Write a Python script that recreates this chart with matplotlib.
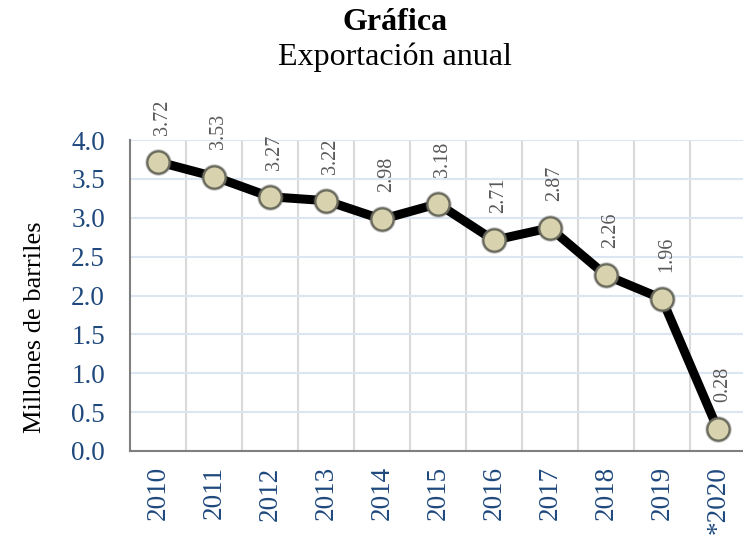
import numpy as np
import matplotlib.pyplot as plt

years = ["2010", "2011", "2012", "2013", "2014", "2015", "2016", "2017", "2018", "2019", "*2020"]
exports = [3.72, 3.53, 3.27, 3.22, 2.98, 3.18, 2.71, 2.87, 2.26, 1.96, 0.28]

plt.rcParams["font.family"] = ["Liberation Serif", "DejaVu Serif"]
blue = "#1F497D"

fig = plt.figure(figsize=(7.43, 5.35), dpi=100)
ax = fig.add_axes([130 / 743, 1 - 451 / 535, 1 - 130 / 743, 311 / 535])

x = np.arange(len(years))
ax.plot(x, exports, color="black", lw=6.5, zorder=3, solid_capstyle="round")
# soft shadow round the markers
ax.plot(x, exports, ls="none", marker="o", ms=19, mfc="#555555", mec="none",
        alpha=0.35, zorder=4)
ax.plot(x, exports, ls="none", marker="o", ms=16, mfc="#D8D3AE", mec="#6B6B5E",
        mew=1.6, zorder=5)
for xi, v in zip(x, exports):
    ax.annotate(f"{v:.2f}", (xi, v), xytext=(3.5, 19.5), textcoords="offset points",
                rotation=90, ha="center", va="bottom", fontsize=14.5, color="#595959")

ax.set_xlim(-0.5, 10.45)
ax.set_ylim(0, 4.0)
ax.set_yticks(np.arange(0, 4.01, 0.5))
ax.set_yticklabels([f"{t:.1f}" for t in np.arange(0, 4.01, 0.5)])
ax.set_xticks(x)
ax.set_xticklabels(years, rotation=90)
ax.set_xticks(np.arange(0.5, 9.6, 1), minor=True)
ax.tick_params(axis="both", which="both", length=0, labelsize=19.5, labelcolor=blue)
ax.tick_params(axis="x", pad=11)
ax.tick_params(axis="y", pad=18)
ax.grid(axis="y", color="#DCE6F2", lw=1.5)
ax.grid(axis="x", which="minor", color="#D9D9D9", lw=1.5)
ax.grid(axis="x", which="major", visible=False)

for s in ["top", "right"]:
    ax.spines[s].set_visible(False)
ax.spines["left"].set_color("#7F7F7F")
ax.spines["bottom"].set_color("#7F7F7F")
ax.spines["left"].set_linewidth(1.5)
ax.spines["bottom"].set_linewidth(1.5)

fig.text(35 / 743, 1 - 327 / 535, "Millones de barriles", rotation=90,
         ha="center", va="center", fontsize=19)

fig.text(395 / 743, 1 - 22 / 535, "Gráfica", ha="center", va="center", fontsize=23, fontweight="bold")
fig.text(395 / 743, 1 - 57 / 535, "Exportación anual", ha="center", va="center", fontsize=23)

fig.savefig("out.png", dpi=100)
